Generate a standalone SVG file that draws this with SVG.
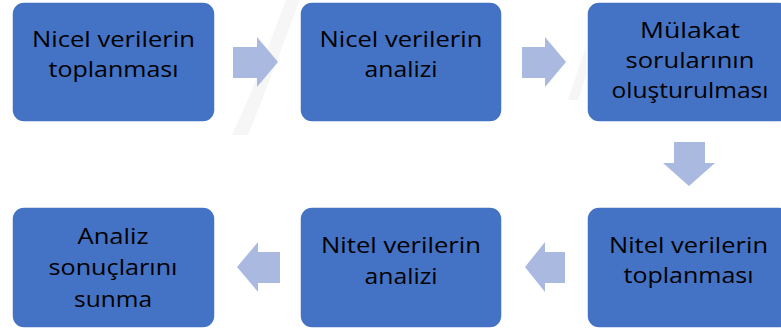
<svg xmlns="http://www.w3.org/2000/svg" width="781" height="329" viewBox="0 0 781 329">
<style>
.box{fill:#4472C4;stroke:#FFFFFF;stroke-width:1.5}
.arr{fill:#A9B9DF}
.t{font-family:"Open Sans","Liberation Sans",sans-serif;font-size:22px;fill:#000000;text-anchor:middle}
.wm{fill:#F6F6F6}
</style>
<rect width="781" height="329" fill="#FFFFFF"/>
<g id="watermark">
<polygon class="wm" points="286,0 300,0 262,100 248,135 232,135 250,95"/>
<polygon class="wm" points="588,40 598,40 578,100 568,100"/>
</g>
<g id="connectors">
<polygon class="arr" points="233,47 257,47 257,37 278,62 257,87 257,78 233,78"/>
<polygon class="arr" points="522,47 545,47 545,37 566,62 545,87 545,78 522,78"/>
<polygon class="arr" points="674,142 705,142 705,163 715,163 689,186 663,163 674,163"/>
<polygon class="arr" points="565,252 545,252 545,242 525,267 545,292 545,283 565,283"/>
<polygon class="arr" points="280,252 258,252 258,242 237,267 258,292 258,283 280,283"/>
</g>
<g id="n1">
<rect class="box" x="12" y="2" width="203" height="120" rx="12"/>
<text class="t" x="113.5" y="47" textLength="163" lengthAdjust="spacingAndGlyphs">Nicel verilerin</text>
<text class="t" x="113.5" y="77" textLength="130" lengthAdjust="spacingAndGlyphs">toplanması</text>
</g>
<g id="n2">
<rect class="box" x="300" y="2" width="202" height="120" rx="12"/>
<text class="t" x="401" y="47" textLength="163" lengthAdjust="spacingAndGlyphs">Nicel verilerin</text>
<text class="t" x="401" y="77" textLength="73" lengthAdjust="spacingAndGlyphs">analizi</text>
</g>
<g id="n3">
<rect class="box" x="587" y="2" width="204" height="120" rx="12"/>
<text class="t" x="690" y="38" textLength="100" lengthAdjust="spacingAndGlyphs">Mülakat</text>
<text class="t" x="690" y="68" textLength="129" lengthAdjust="spacingAndGlyphs">sorularının</text>
<text class="t" x="690" y="98" textLength="157" lengthAdjust="spacingAndGlyphs">oluşturulması</text>
</g>
<g id="n4">
<rect class="box" x="587" y="207" width="204" height="121" rx="12"/>
<text class="t" x="688.5" y="253" textLength="159" lengthAdjust="spacingAndGlyphs">Nitel verilerin</text>
<text class="t" x="688.5" y="283" textLength="130" lengthAdjust="spacingAndGlyphs">toplanması</text>
</g>
<g id="n5">
<rect class="box" x="300" y="207" width="202" height="121" rx="12"/>
<text class="t" x="401" y="253" textLength="160" lengthAdjust="spacingAndGlyphs">Nitel verilerin</text>
<text class="t" x="401" y="284" textLength="73" lengthAdjust="spacingAndGlyphs">analizi</text>
</g>
<g id="n6">
<rect class="box" x="12" y="207" width="203" height="121" rx="12"/>
<text class="t" x="113" y="244" textLength="71" lengthAdjust="spacingAndGlyphs">Analiz</text>
<text class="t" x="113" y="275" textLength="129" lengthAdjust="spacingAndGlyphs">sonuçlarını</text>
<text class="t" x="113" y="307" textLength="78" lengthAdjust="spacingAndGlyphs">sunma</text>
</g>
</svg>
